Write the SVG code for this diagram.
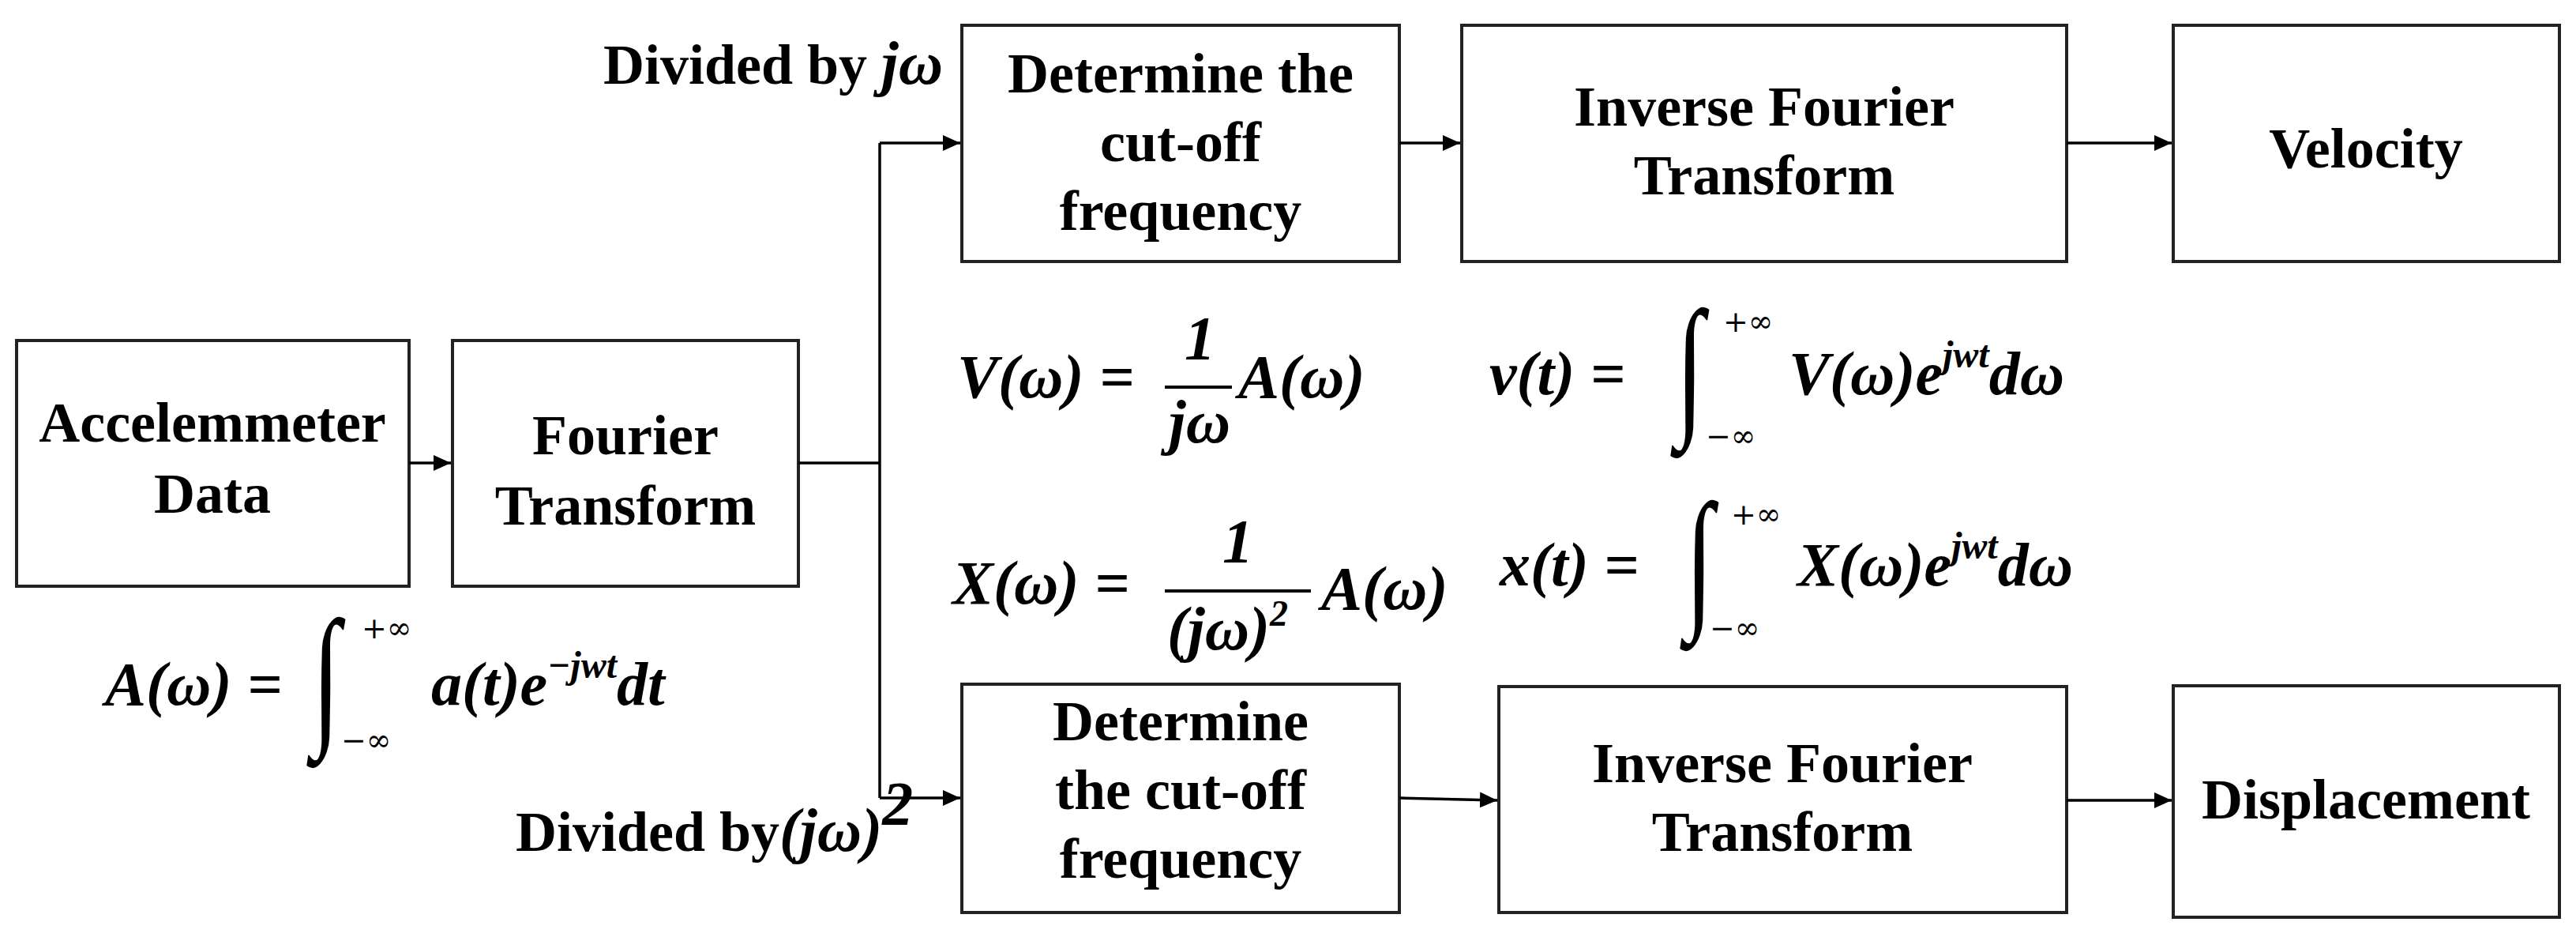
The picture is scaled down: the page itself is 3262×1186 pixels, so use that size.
<svg xmlns="http://www.w3.org/2000/svg" width="3262" height="1186" viewBox="0 0 3262 1186">
<style>
rect{fill:#fff;stroke:#222;stroke-width:4}
.t{font-family:"Liberation Serif",serif;font-weight:bold;font-size:72px;text-anchor:middle;fill:#000}
.l{font-family:"Liberation Serif",serif;font-weight:bold;font-size:72px;fill:#000}
.m{font-family:"Liberation Serif",serif;font-weight:bold;font-style:italic;font-size:78px;fill:#000}
.s{font-family:"DejaVu Serif",serif;font-size:38px;fill:#000}
.i{font-family:"Liberation Serif",serif;font-size:130px;fill:#000}
.c path{fill:none;stroke:#000;stroke-width:3.5}
</style>
<defs><marker id="b" markerWidth="22" markerHeight="20" refX="22" refY="10" orient="auto" markerUnits="userSpaceOnUse"><path d="M0,0L22,10L0,20z" fill="#000"/></marker></defs>
<g id="accel"><rect x="21" y="431" width="497" height="311"/><text class="t" x="269" y="559">Accelemmeter</text><text class="t" x="269" y="649">Data</text></g>
<g id="fourier"><rect x="573" y="431" width="438" height="311"/><text class="t" x="792" y="575">Fourier</text><text class="t" x="792" y="664">Transform</text></g>
<g id="cut1"><rect x="1218" y="32" width="554" height="299"/><text class="t" x="1495" y="117">Determine the</text><text class="t" x="1495" y="204">cut-off</text><text class="t" x="1495" y="291">frequency</text></g>
<g id="ift1"><rect x="1851" y="32" width="766" height="299"/><text class="t" x="2234" y="159">Inverse Fourier</text><text class="t" x="2234" y="246">Transform</text></g>
<g id="vel"><rect x="2752" y="32" width="489" height="299"/><text class="t" x="2996" y="212">Velocity</text></g>
<g id="cut2"><rect x="1218" y="866" width="554" height="289"/><text class="t" x="1495" y="937">Determine</text><text class="t" x="1495" y="1024">the cut-off</text><text class="t" x="1495" y="1111">frequency</text></g>
<g id="ift2"><rect x="1898" y="869" width="719" height="286"/><text class="t" x="2257" y="990">Inverse Fourier</text><text class="t" x="2257" y="1077">Transform</text></g>
<g id="disp"><rect x="2752" y="868" width="489" height="293"/><text class="t" x="2996" y="1036">Displacement</text></g>
<g class="c" id="connectors">
<path d="M518,586H571" marker-end="url(#b)"/>
<path d="M1011,586H1114"/>
<path d="M1114,181V1010"/>
<path d="M1114,181H1216" marker-end="url(#b)"/>
<path d="M1114,1010H1216" marker-end="url(#b)"/>
<path d="M1772,181H1849" marker-end="url(#b)"/>
<path d="M2617,181H2750" marker-end="url(#b)"/>
<path d="M1772,1010L1896,1013" marker-end="url(#b)"/>
<path d="M2617,1013H2750" marker-end="url(#b)"/>
</g>
<g id="labels">
<text class="l" x="764" y="106">Divided by <tspan class="m">jω</tspan></text>
<text class="l" x="653" y="1077">Divided by<tspan class="m">(jω)</tspan><tspan class="m" font-size="46" dy="-34">2</tspan></text>
<text class="m" x="133" y="892">A(ω) =</text>
<text class="i" transform="translate(395,920) scale(1,1.5)">∫</text>
<text class="s" x="458" y="808">+∞</text><text class="s" x="432" y="950">−∞</text>
<text class="m" x="546" y="892">a(t)e<tspan font-size="48" dy="-34">−jwt</tspan><tspan dy="34">dt</tspan></text>
<text class="m" x="1212" y="503">V(ω) =</text>
<text class="m" x="1500" y="454">1</text>
<path d="M1475,490H1560" stroke="#000" stroke-width="4"/>
<text class="m" x="1480" y="560">jω</text>
<text class="m" x="1568" y="503">A(ω)</text>
<text class="m" x="1886" y="499">v(t) =</text>
<text class="i" transform="translate(2122,528) scale(1,1.5)">∫</text>
<text class="s" x="2182" y="420">+∞</text><text class="s" x="2160" y="565">−∞</text>
<text class="m" x="2265" y="499">V(ω)e<tspan font-size="48" dy="-34">jwt</tspan><tspan dy="34">dω</tspan></text>
<text class="m" x="1206" y="764">X(ω) =</text>
<text class="m" x="1548" y="711">1</text>
<path d="M1475,748H1660" stroke="#000" stroke-width="4"/>
<text class="m" x="1478" y="822">(jω)<tspan font-size="46" dy="-30">2</tspan></text>
<text class="m" x="1673" y="771">A(ω)</text>
<text class="m" x="1899" y="741">x(t) =</text>
<text class="i" transform="translate(2134,772) scale(1,1.5)">∫</text>
<text class="s" x="2192" y="664">+∞</text><text class="s" x="2165" y="808">−∞</text>
<text class="m" x="2276" y="741">X(ω)e<tspan font-size="48" dy="-34">jwt</tspan><tspan dy="34">dω</tspan></text>
</g>
</svg>
